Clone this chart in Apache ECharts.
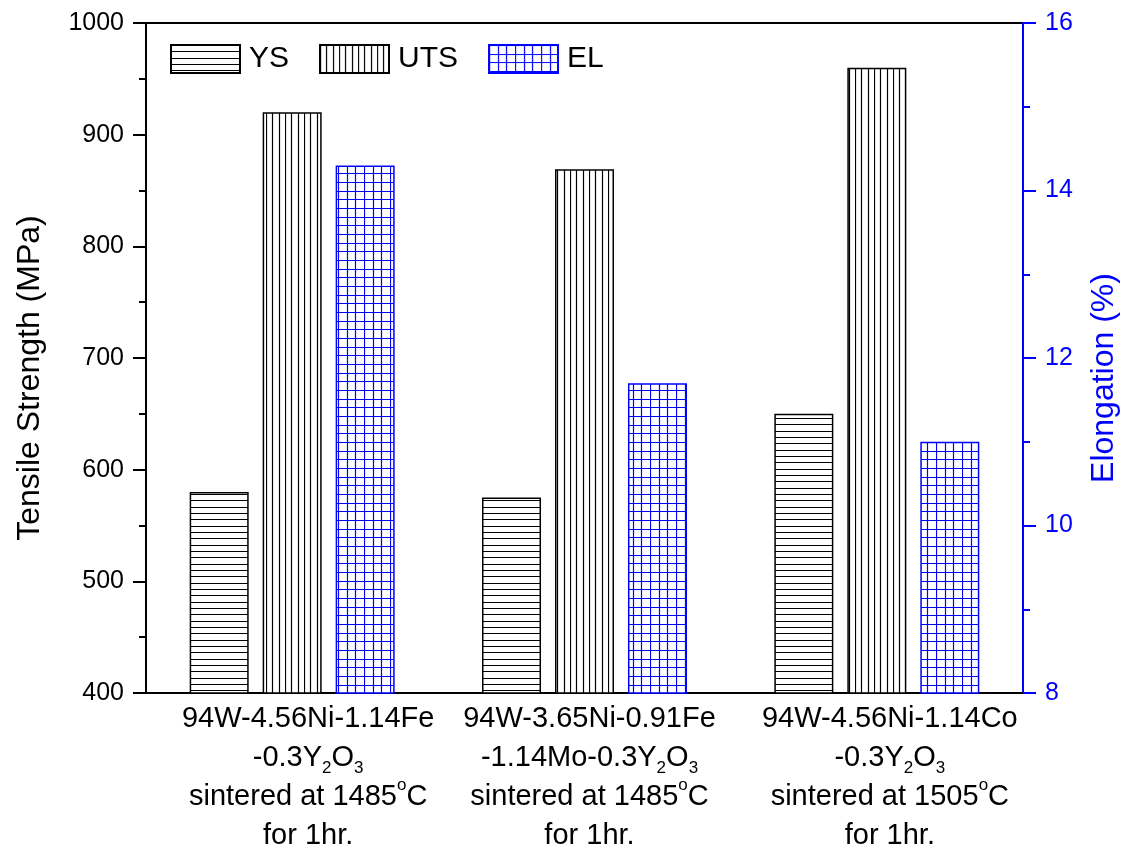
<!DOCTYPE html>
<html>
<head>
<meta charset="utf-8">
<script src="https://cdn.jsdelivr.net/npm/echarts@6/dist/echarts.min.js"></script>
<style>
  html, body { margin: 0; padding: 0; background: #fff; }
  #chart { width: 1128px; height: 852px; }
</style>
</head>
<body>
<div id="chart"></div>
<script>
// Alloy compositions and processing conditions (category labels)
const alloys = ['94W-4.56Ni-1.14Fe', '94W-3.65Ni-0.91Fe', '94W-4.56Ni-1.14Co'];
const additives = ['-0.3Y{sub|2}O{sub|3}', '-1.14Mo-0.3Y{sub|2}O{sub|3}', '-0.3Y{sub|2}O{sub|3}'];
const sinterTemps = [1485, 1485, 1505];
const sinterTime = 'for 1hr.';

// Mechanical properties
const seriesNames = ['YS', 'UTS', 'EL'];
const yieldStrength = [580, 575, 650];      // MPa
const tensileStrength = [920, 869, 960];    // MPa
const elongation = [14.3, 11.7, 11.0];      // %

// Axis ranges
const strengthAxis = { min: 400, max: 1000, interval: 100 };
const elongationAxis = { min: 8, max: 16, interval: 2 };

// Horizontal nudge of each category's label block (px)
const labelNudge = [16, 5, 13];

const FONT = '"Liberation Sans", Arial, sans-serif';
const BLUE = '#0000ff';

// Hatch fills drawn on small tiles: horizontal lines, vertical lines, or a grid
function hatch(kind, color) {
  const size = kind === 'grid' ? 26 : 19;
  const n = 3;
  const c = document.createElement('canvas');
  c.width = size; c.height = size;
  const ctx = c.getContext('2d');
  ctx.fillStyle = '#fff';
  ctx.fillRect(0, 0, size, size);
  ctx.strokeStyle = color;
  ctx.lineWidth = 1.2;
  ctx.beginPath();
  for (let i = 0; i < n; i++) {
    const p = Math.round(i * size / n) + 0.5;
    if (kind !== 'v') { ctx.moveTo(0, p); ctx.lineTo(size, p); }
    if (kind !== 'h') { ctx.moveTo(p, 0); ctx.lineTo(p, size); }
  }
  ctx.stroke();
  return { image: c, repeat: 'repeat' };
}

const chart = echarts.init(document.getElementById('chart'), null, { renderer: 'canvas' });

const option = {
  animation: false,
  backgroundColor: '#fff',
  textStyle: { fontFamily: FONT },
  grid: {
    left: 146, right: 105, top: 23, bottom: 159,
    outerBoundsMode: 'none',
    containLabel: false,
    show: true, borderColor: '#000', borderWidth: 2, backgroundColor: 'transparent'
  },
  legend: {
    data: seriesNames,
    left: 170, top: 44,
    padding: 0,
    icon: 'rect',
    itemWidth: 69, itemHeight: 28, itemGap: 30,
    textStyle: { fontSize: 30, color: '#000', fontFamily: FONT, padding: [0, 0, 0, 4] }
  },
  xAxis: {
    type: 'category',
    data: alloys.map((name, i) => ({
      value: name,
      textStyle: { padding: [0, 0, 0, labelNudge[i] * 2] }
    })),
    boundaryGap: true,
    axisLine: { show: true, lineStyle: { color: '#000', width: 2 } },
    axisTick: { show: false },
    splitLine: { show: false },
    axisLabel: {
      interval: 0,
      hideOverlap: false,
      margin: 6,
      color: '#000',
      fontFamily: FONT,
      fontSize: 29,
      lineHeight: 39,
      align: 'center',
      formatter: (value, index) => [
        alloys[index],
        additives[index],
        'sintered at ' + sinterTemps[index] + '{sup|o}C',
        sinterTime
      ].join('\n'),
      rich: {
        sub: { fontSize: 17, lineHeight: 19, verticalAlign: 'bottom', color: '#000', fontFamily: FONT },
        sup: { fontSize: 17, lineHeight: 23, verticalAlign: 'top', color: '#000', fontFamily: FONT }
      }
    }
  },
  yAxis: [
    {
      type: 'value',
      position: 'left',
      min: strengthAxis.min, max: strengthAxis.max, interval: strengthAxis.interval,
      axisLine: { show: true, lineStyle: { color: '#000', width: 2 } },
      axisTick: { show: true, inside: false, length: 13, lineStyle: { color: '#000', width: 2 } },
      minorTick: { show: true, splitNumber: 2, length: 7, lineStyle: { color: '#000', width: 2 } },
      splitLine: { show: false },
      minorSplitLine: { show: false },
      axisLabel: { margin: 22, fontSize: 25, color: '#000', fontFamily: FONT, formatter: v => String(v) },
      name: 'Tensile Strength (MPa)',
      nameLocation: 'middle',
      nameRotate: 90,
      nameGap: 100,
      nameTextStyle: { fontSize: 32, color: '#000', fontFamily: FONT, padding: [0, 40, 0, 0] }
    },
    {
      type: 'value',
      position: 'right',
      min: elongationAxis.min, max: elongationAxis.max, interval: elongationAxis.interval,
      axisLine: { show: true, lineStyle: { color: BLUE, width: 2 } },
      axisTick: { show: true, inside: false, length: 13, lineStyle: { color: BLUE, width: 2 } },
      minorTick: { show: true, splitNumber: 2, length: 7, lineStyle: { color: BLUE, width: 2 } },
      splitLine: { show: false },
      minorSplitLine: { show: false },
      axisLabel: { margin: 22, fontSize: 25, color: BLUE, fontFamily: FONT, formatter: v => String(v) },
      name: 'Elongation (%)',
      nameLocation: 'middle',
      nameRotate: 90,
      nameGap: 65,
      nameTextStyle: { fontSize: 32, color: BLUE, fontFamily: FONT, padding: [0, 40, 0, 0] }
    }
  ],
  series: [
    {
      name: seriesNames[0], type: 'bar', yAxisIndex: 0,
      data: yieldStrength,
      barWidth: 59, barGap: '23.7%',
      itemStyle: { color: hatch('h', '#000'), borderColor: '#000', borderWidth: 1.5 }
    },
    {
      name: seriesNames[1], type: 'bar', yAxisIndex: 0,
      data: tensileStrength,
      barWidth: 59, barGap: '23.7%',
      itemStyle: { color: hatch('v', '#000'), borderColor: '#000', borderWidth: 1.5 }
    },
    {
      name: seriesNames[2], type: 'bar', yAxisIndex: 1,
      data: elongation,
      barWidth: 59, barGap: '23.7%',
      itemStyle: { color: hatch('grid', BLUE), borderColor: BLUE, borderWidth: 1.5 }
    }
  ]
};

chart.setOption(option);
</script>
</body>
</html>
